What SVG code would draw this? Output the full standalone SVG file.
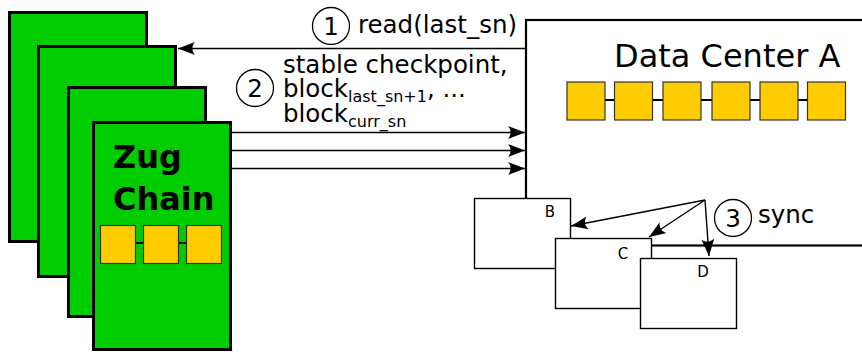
<svg xmlns="http://www.w3.org/2000/svg" width="862" height="352" viewBox="0 0 862 352">
  <defs>
    <style>
      .chain { fill: #00cc00; stroke: #000; stroke-width: 3; }
      .blk { fill: #ffcc00; stroke: #333; stroke-width: 1.2; }
      .link { stroke: #000; stroke-width: 2; fill: none; }
      .conn { stroke: #000; stroke-width: 1.4; fill: none; }
      .box { fill: #fff; stroke: #000; stroke-width: 1.4; }
      .dc { fill: #fff; stroke: #000; stroke-width: 2.2; }
      .num { fill: #fff; stroke: #000; stroke-width: 1.3; }
      .t { font-family: "DejaVu Sans", sans-serif; fill: #000; }
      .lbl { font-size: 24.5px; }
      .sub { font-size: 16px; }
      .small { font-size: 15px; }
    </style>
    <marker id="arr" markerUnits="userSpaceOnUse" viewBox="-18 -7 19 14" refX="0" refY="0" markerWidth="19" markerHeight="14" orient="auto">
      <path d="M0,0 L-17,-6.5 C-13.5,-2.5 -13.5,2.5 -17,6.5 Z" fill="#000"/>
    </marker>
  </defs>

  <g id="zug-chain">
    <rect class="chain" x="9.5" y="12.5" width="137" height="229"/>
    <rect class="chain" x="38.5" y="46.5" width="137" height="230"/>
    <rect class="chain" x="68.5" y="87.5" width="137" height="229"/>
    <rect class="chain" x="93.5" y="122.5" width="137" height="227"/>
    <text class="t" x="113" y="168" font-size="32" font-weight="bold">Zug</text>
    <text class="t" x="113" y="210" font-size="32" font-weight="bold">Chain</text>
    <line class="link" x1="118" y1="243" x2="203" y2="243"/>
    <rect class="blk" x="100.5" y="225.5" width="35" height="38"/>
    <rect class="blk" x="143.5" y="225.5" width="35" height="38"/>
    <rect class="blk" x="186.5" y="225.5" width="35" height="38"/>
  </g>

  <g id="data-center-a">
    <rect class="dc" x="526" y="20" width="345" height="225.5"/>
    <text class="t" x="614" y="67" font-size="32">Data Center A</text>
    <line class="link" x1="586" y1="100" x2="826" y2="100"/>
    <rect class="blk" x="567" y="82" width="38" height="38"/>
    <rect class="blk" x="614.5" y="82" width="38" height="38"/>
    <rect class="blk" x="663" y="82" width="38" height="38"/>
    <rect class="blk" x="712" y="82" width="38" height="38"/>
    <rect class="blk" x="760" y="82" width="38" height="38"/>
    <rect class="blk" x="807.5" y="82" width="38" height="38"/>
  </g>

  <g id="dc-b">
    <rect class="box" x="474.5" y="198.5" width="96" height="70"/>
    <text class="t small" x="550" y="217" text-anchor="middle">B</text>
  </g>
  <g id="dc-c">
    <rect class="box" x="555.5" y="238.5" width="96" height="70"/>
    <text class="t small" x="623" y="259" text-anchor="middle">C</text>
  </g>
  <g id="dc-d">
    <rect class="box" x="640.5" y="258.5" width="96" height="70"/>
    <text class="t small" x="703" y="277" text-anchor="middle">D</text>
  </g>

  <g id="connectors">
    <line class="conn" x1="526" y1="48.5" x2="178" y2="48.5" marker-end="url(#arr)"/>
    <line class="conn" x1="231" y1="132.5" x2="525" y2="132.5" marker-end="url(#arr)"/>
    <line class="conn" x1="231" y1="150.5" x2="525" y2="150.5" marker-end="url(#arr)"/>
    <line class="conn" x1="231" y1="168.5" x2="525" y2="168.5" marker-end="url(#arr)"/>
    <line class="conn" x1="705" y1="200" x2="571" y2="226" marker-end="url(#arr)"/>
    <line class="conn" x1="705" y1="200" x2="649" y2="237" marker-end="url(#arr)"/>
    <line class="conn" x1="705" y1="200" x2="709" y2="256" marker-end="url(#arr)"/>
  </g>

  <g id="labels">
    <circle class="num" cx="331" cy="26" r="18.5"/>
    <text class="t lbl" x="331" y="34.5" text-anchor="middle">1</text>
    <text class="t lbl" x="358" y="33">read(last_sn)</text>

    <circle class="num" cx="255" cy="88" r="18.5"/>
    <text class="t lbl" x="255" y="96.5" text-anchor="middle">2</text>
    <text class="t lbl" x="283" y="73">stable checkpoint,</text>
    <text class="t lbl" x="283" y="97">block<tspan class="sub" dy="5">last_sn+1</tspan><tspan dy="-5">, ...</tspan></text>
    <text class="t lbl" x="283" y="122">block<tspan class="sub" dy="5">curr_sn</tspan></text>

    <circle class="num" cx="733" cy="218" r="18.5"/>
    <text class="t lbl" x="733" y="226.5" text-anchor="middle">3</text>
    <text class="t lbl" x="758" y="223">sync</text>
  </g>
</svg>
